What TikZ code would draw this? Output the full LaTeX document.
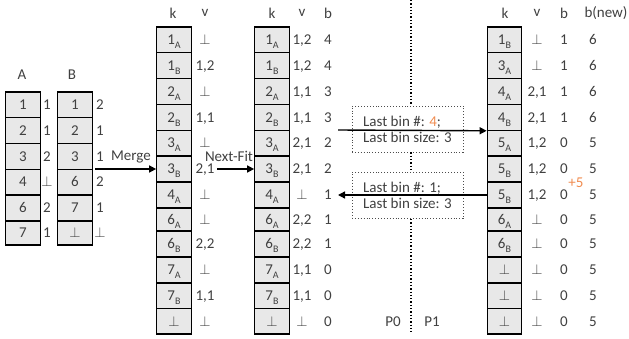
\documentclass[tikz,border=0pt]{standalone}
\usepackage{fontspec}
\setmainfont{Carlito}
\usetikzlibrary{arrows.meta}
\definecolor{cellgray}{RGB}{232,232,232}
\definecolor{txtgray}{RGB}{64,64,64}
\definecolor{accent}{RGB}{240,140,80}
\newcommand\subl[1]{\raisebox{-4pt}{\fontsize{10}{10}\selectfont #1}}
\newcommand\nil{$\perp$}
\begin{document}
\begin{tikzpicture}[x=1pt,y=-1pt,
  every node/.style={font=\fontsize{15}{18}\selectfont, text=txtgray},
  cell/.style={draw=black, line width=1.2pt, fill=cellgray, minimum width=34.5pt, inner sep=0pt, text height=9.5pt, text depth=0pt},
  val/.style={inner sep=0pt, text height=9.5pt, text depth=0pt},
  hdr/.style={inner sep=0pt},
  arr/.style={line width=1.4pt, draw=black, -{Triangle[length=7pt,width=7pt]}},
  sep/.style={dotted, line width=1.3pt, draw=black},
  infobox/.style={draw=black!70, dotted, line width=0.9pt, minimum width=111pt, minimum height=46pt, inner sep=0pt, align=left}
]
\useasboundingbox (0,0) rectangle (629,339);

% ---------------- A / B tables
\node[hdr] (hA) at (22,75) {A};
\node[hdr] (hB) at (72,75) {B};
\foreach \t/\bb/\ka/\va/\kb/\vb [count=\i] in {
  92/117.5/1/1/1/2,
  117.5/143.3/2/1/2/1,
  143.3/169.3/3/2/3/1,
  169.3/195/4/\nil/6/2,
  195/221/6/2/7/1,
  221/245/7/1/\nil/\nil}{
  \node[cell, minimum height={(\bb-\t)*1pt}] (A\i) at (23,{(\t+\bb)/2}) {\ka};
  \node[val] (Av\i) at (47,{(\t+\bb)/2}) {\va};
  \node[cell, minimum height={(\bb-\t)*1pt}] (B\i) at (75,{(\t+\bb)/2}) {\kb};
  \node[val] (Bv\i) at (100,{(\t+\bb)/2}) {\vb};
}

% ---------------- table 1 (merged)
\node[hdr] (h1k) at (173,13) {k};
\node[hdr] (h1v) at (205,13) {v};
\foreach \t/\bb/\k/\v [count=\i] in {
  27/52.8/{1\subl{A}}/\nil,
  52.8/78.6/{1\subl{B}}/{1,2},
  78.6/104.4/{2\subl{A}}/\nil,
  104.4/130.2/{2\subl{B}}/{1,1},
  130.2/156/{3\subl{A}}/\nil,
  156/182/{3\subl{B}}/{2,1},
  182/208/{4\subl{A}}/\nil,
  208/231/{6\subl{A}}/\nil,
  231/257/{6\subl{B}}/{2,2},
  257/283/{7\subl{A}}/\nil,
  283/308.5/{7\subl{B}}/{1,1},
  308.5/334/\nil/\nil}{
  \node[cell, minimum height={(\bb-\t)*1pt}] (M\i) at (174,{(\t+\bb)/2}) {\k};
  \node[val] (Mv\i) at (205,{(\t+\bb)/2}) {\v};
}

% ---------------- table 2 (next-fit)
\node[hdr] (h2k) at (272,13) {k};
\node[hdr] (h2v) at (302,13) {v};
\node[hdr] (h2b) at (328,13) {b};
\foreach \t/\bb/\k/\v/\b [count=\i] in {
  27/52.8/{1\subl{A}}/{1,2}/4,
  52.8/78.6/{1\subl{B}}/{1,2}/4,
  78.6/104.4/{2\subl{A}}/{1,1}/3,
  104.4/130.2/{2\subl{B}}/{1,1}/3,
  130.2/156/{3\subl{A}}/{2,1}/2,
  156/182/{3\subl{B}}/{2,1}/2,
  182/208/{4\subl{A}}/\nil/1,
  208/231/{6\subl{A}}/{2,2}/1,
  231/257/{6\subl{B}}/{2,2}/1,
  257/283/{7\subl{A}}/{1,1}/0,
  283/308.5/{7\subl{B}}/{1,1}/0,
  308.5/334/\nil/\nil/0}{
  \node[cell, minimum height={(\bb-\t)*1pt}] (N\i) at (272,{(\t+\bb)/2}) {\k};
  \node[val] (Nv\i) at (302,{(\t+\bb)/2}) {\v};
  \node[val] (Nb\i) at (328,{(\t+\bb)/2}) {\b};
}

% ---------------- right table (P1)
\node[hdr] (h3k) at (505,13) {k};
\node[hdr] (h3v) at (537,13) {v};
\node[hdr] (h3b) at (564,13) {b};
\node[hdr] (h3n) at (606,13) {b(new)};
\foreach \t/\bb/\k/\v/\b/\n [count=\i] in {
  27/52.8/{1\subl{B}}/\nil/1/6,
  52.8/78.6/{3\subl{A}}/\nil/1/6,
  78.6/104.4/{4\subl{A}}/{2,1}/1/6,
  104.4/130.2/{4\subl{B}}/{2,1}/1/6,
  130.2/156/{5\subl{A}}/{1,2}/0/5,
  156/182/{5\subl{B}}/{1,2}/0/5,
  182/208/{5\subl{B}}/{1,2}/0/5,
  208/231/{6\subl{A}}/\nil/0/5,
  231/257/{6\subl{B}}/\nil/0/5,
  257/283/\nil/\nil/0/5,
  283/308.5/\nil/\nil/0/5,
  308.5/334/\nil/\nil/0/5}{
  \node[cell, minimum height={(\bb-\t)*1pt}] (R\i) at (504.5,{(\t+\bb)/2}) {\k};
  \node[val] (Rv\i) at (537,{(\t+\bb)/2}) {\v};
  \node[val] (Rb\i) at (564,{(\t+\bb)/2}) {\b};
  \node[val] (Rn\i) at (593,{(\t+\bb)/2}) {\n};
}
\node[hdr, text=accent] (plus) at (576,183) {+5};

% ---------------- arrows Merge / Next-Fit
\coordinate (mst) at (95,169);
\draw[arr] (mst) -- (M6.west);
\node[hdr] (lm) at (131,157) {Merge};
\coordinate (nst) at (217,169);
\draw[arr] (nst) -- (N6.west);
\node[hdr] (ln) at (229,156) {Next-Fit};

% ---------------- separator and info boxes
\node[infobox] (box1) at (407.5,129) {Last bin \#: {\color{accent}4};\\[-2pt]Last bin size: 3};
\node[infobox] (box2) at (407.5,195.5) {Last bin \#: 1;\\[-2pt]Last bin size: 3};
\coordinate (sepT) at (411,0);
\coordinate (sepB) at (411,333);
\draw[sep] (sepT) -- (box1.north -| sepT);
\draw[sep] (box1.south -| sepT) -- (box2.north -| sepT);
\draw[sep] (box2.south -| sepT) -- (sepB);
\node[hdr] (p0) at (393,322) {P0};
\node[hdr] (p1) at (432,322) {P1};

\coordinate (a1s) at (338,130);
\draw[arr] (a1s) -- (R4.south west);
\coordinate (a2e) at (338,195);
\draw[arr] (R7.west) -- (a2e);
\end{tikzpicture}
\end{document}
